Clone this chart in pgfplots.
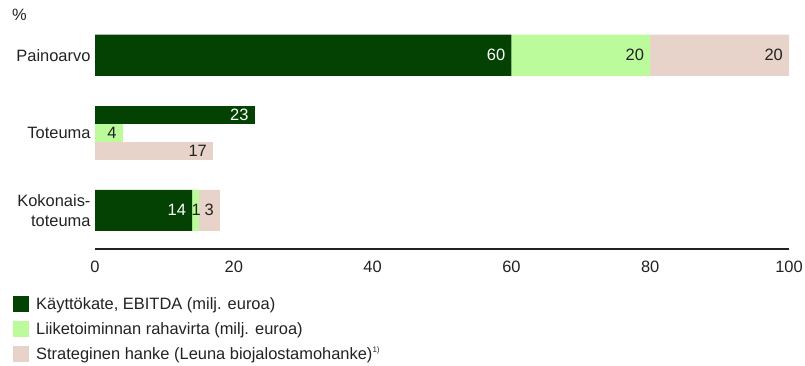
\documentclass[border=0pt]{standalone}
\usepackage{fontspec}
\setmainfont{Liberation Sans}
\usepackage{pgfplots}
\pgfplotsset{compat=1.18}
\definecolor{dg}{HTML}{034203}
\definecolor{lg}{HTML}{BBFB9B}
\definecolor{pk}{HTML}{E8D3CB}
\definecolor{tx}{HTML}{222222}
\newcommand{\cf}{\fontsize{16.5}{20}\selectfont}
\begin{document}
\begin{tikzpicture}[x=1bp,y=1bp]
\useasboundingbox (0,0) rectangle (805,365);
\pgfplotsset{common/.style={
  at={(95bp,116bp)}, anchor=south west, scale only axis,
  width=694bp, height=232.5bp,
  xmin=0, xmax=100, ymin=-0.5, ymax=2.5,
  /pgf/number format/assume math mode=true,
  point meta=explicit symbolic,
  nodes near coords={\pgfplotspointmeta},
  nodes near coords style={anchor=east, font=\cf, inner sep=0pt, xshift=-6bp},
}}
\begin{axis}[common,
  xbar stacked, bar width=41bp,
  axis x line*=bottom, axis y line*=left,
  x axis line style={draw=tx, line width=1.2bp, -},
  y axis line style={draw=none},
  xtick={0,20,...,100}, ytick={0,1,2},
  yticklabels={Kokonais-\\toteuma, Toteuma, Painoarvo},
  tick style={draw=none},
  xticklabel style={font=\cf, text=tx, yshift=-8bp},
  yticklabel style={font=\cf, text=tx, align=right, xshift=-1bp},
  legend style={draw=none, fill=none, at={(0,0)}, anchor=north west,
    xshift=-82bp, yshift=-46bp, font=\cf, text=tx,
    row sep=7.5bp, inner sep=0pt, nodes={inner sep=2bp}},
  legend cell align=left,
  legend image code/.code={\fill[#1] (0bp,-8bp) rectangle (16bp,8bp); \path (21bp,0bp);},
]
\addplot[fill=dg, draw=none, nodes near coords style={text=white}] coordinates {(60,2) [60] (14,0) [14]};
\addplot[fill=lg, draw=none, nodes near coords style={text=tx}] coordinates {(20,2) [20] (1,0) [{}]};
\addplot[fill=pk, draw=none, nodes near coords style={text=tx}] coordinates {(20,2) [20] (3,0) [3]};
\legend{{Käyttökate, EBITDA (milj. euroa)}, {Liiketoiminnan rahavirta (milj. euroa)}, {Strateginen hanke (Leuna biojalostamohanke)\textsuperscript{\fontsize{8}{9}\selectfont 1)}}}
\end{axis}
\begin{axis}[common, hide axis, xbar, bar width=18bp]
\addplot[fill=dg, draw=none, bar shift=18bp, nodes near coords style={text=white}] coordinates {(23,1) [23]};
\addplot[fill=lg, draw=none, bar shift=0bp, nodes near coords style={text=tx}] coordinates {(4,1) [4]};
\addplot[fill=pk, draw=none, bar shift=-18bp, nodes near coords style={text=tx}] coordinates {(17,1) [17]};
\addplot[fill=none, draw=none, bar shift=0bp, bar width=41bp, nodes near coords style={text=tx, anchor=center, xshift=3bp}] coordinates {(15,0) [1]};
\end{axis}
\node[anchor=base west, font=\cf, text=tx, inner sep=0pt] at (12,345) {\%};
\end{tikzpicture}
\end{document}
